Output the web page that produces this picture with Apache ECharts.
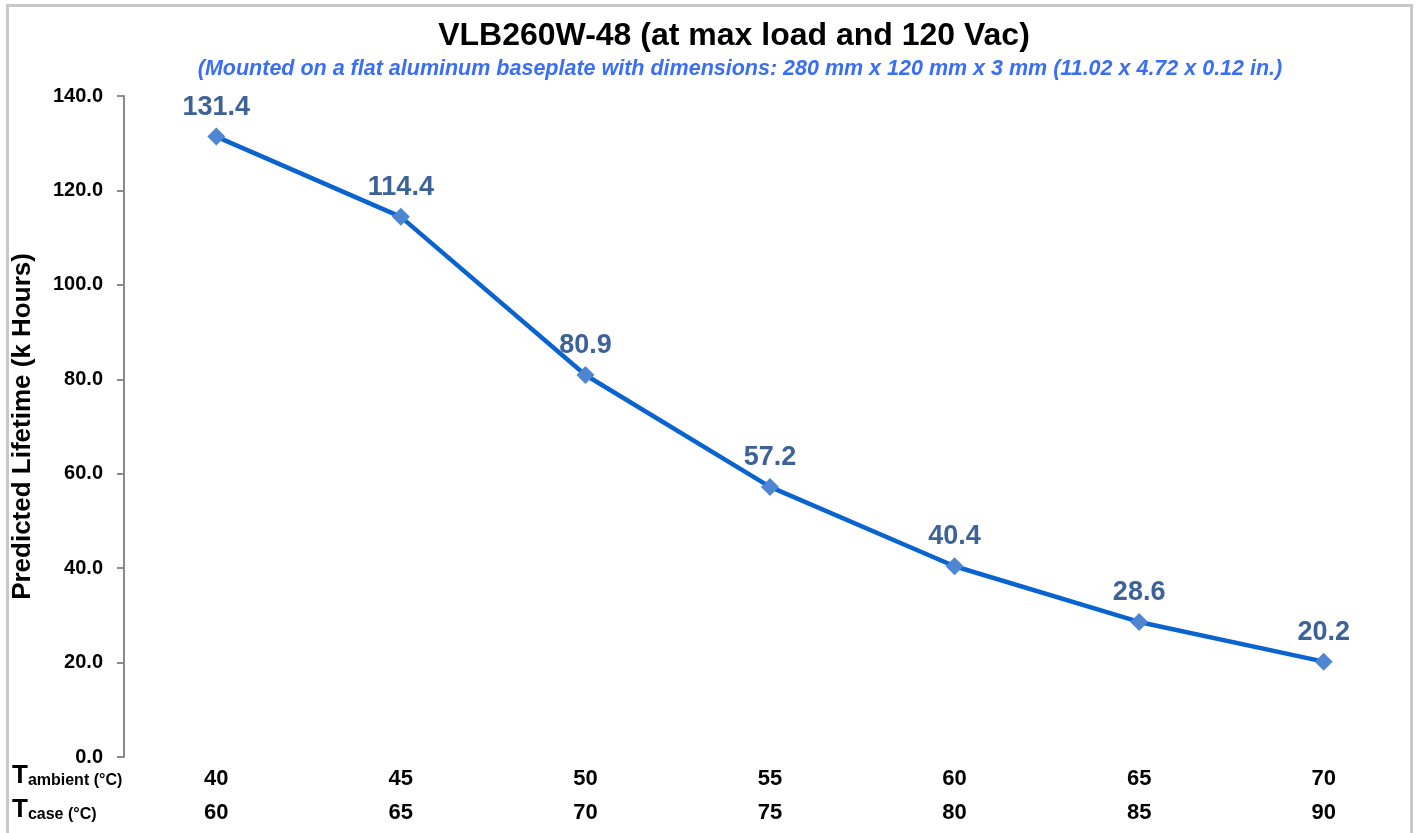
<!DOCTYPE html>
<html>
<head>
<meta charset="utf-8">
<script src="https://cdn.jsdelivr.net/npm/echarts@6/dist/echarts.min.js"></script>
<style>
html, body { margin: 0; padding: 0; background: #fff; }
#main { width: 1416px; height: 833px; }
.frame { position: absolute; left: 6px; top: 4px; width: 1407px; height: 840px; border: 3px solid #c8c8c8; box-sizing: border-box; pointer-events: none; }
</style>
</head>
<body>
<div id="main"></div>
<div class="frame"></div>
<script>
// 数据
var tAmbient = ['40', '45', '50', '55', '60', '65', '70'];
var tCase = ['60', '65', '70', '75', '80', '85', '90'];
var lifetime = [131.4, 114.4, 80.9, 57.2, 40.4, 28.6, 20.2];

var font = '"Liberation Sans", Arial, Helvetica, sans-serif';

var myChart = echarts.init(document.getElementById('main'));
var option = {
    backgroundColor: '#fff',
    textStyle: { fontFamily: font },
    title: [{
        text: 'VLB260W-48 (at max load and 120 Vac)',
        left: 729,
        textAlign: 'center',
        top: 15,
        textStyle: { fontFamily: font, fontSize: 32, fontWeight: 'bold', color: '#000' }
    }, {
        text: '(Mounted on a flat aluminum baseplate with dimensions: 280 mm x 120 mm x 3 mm (11.02 x 4.72 x 0.12 in.)',
        left: 735,
        textAlign: 'center',
        top: 53,
        textStyle: { fontFamily: font, fontSize: 21.5, fontWeight: 'bold', fontStyle: 'italic', color: '#3a6ef5' }
    }],
    grid: { left: 124, right: 0, top: 96, bottom: 76, outerBoundsMode: 'none' },
    xAxis: {
        type: 'category',
        data: tAmbient,
        boundaryGap: true,
        axisLine: { show: false },
        axisTick: { show: false },
        axisLabel: {
            margin: 5,
            formatter: function (v, i) {
                return '{a|' + v + '}\n{a|' + tCase[i] + '}';
            },
            rich: {
                a: { fontFamily: font, fontSize: 22, fontWeight: 'bold', color: '#000', lineHeight: 34 }
            }
        }
    },
    yAxis: {
        type: 'value',
        min: 0,
        max: 140,
        interval: 20,
        name: 'Predicted Lifetime (k Hours)',
        nameLocation: 'middle',
        nameGap: 88,
        nameTextStyle: { fontFamily: font, fontSize: 26, fontWeight: 'bold', color: '#000' },
        axisLine: { show: true, lineStyle: { color: '#8a8a8a', width: 2 } },
        axisTick: { show: true, inside: false, length: 7, lineStyle: { color: '#8a8a8a', width: 2 } },
        axisLabel: {
            margin: 21,
            fontFamily: font, fontSize: 20, fontWeight: 'bold', color: '#000',
            formatter: function (v) { return v.toFixed(1); }
        },
        splitLine: { show: false }
    },
    series: [{
        type: 'line',
        data: lifetime,
        symbol: 'diamond',
        symbolSize: 18,
        lineStyle: { color: '#0a64cf', width: 4.5 },
        itemStyle: { color: '#4f86d2' },
        label: {
            show: true,
            position: 'top',
            distance: 7,
            fontFamily: font, fontSize: 27, fontWeight: 'bold', color: '#3c6298',
            formatter: function (p) { return p.value.toFixed(1); }
        },
        animation: false
    }],
    graphic: [
        {
            type: 'text', left: 12, top: 763,
            style: {
                text: '{t|T}{s|ambient (°C)}',
                rich: {
                    t: { fontFamily: font, fontSize: 26, fontWeight: 'bold', fill: '#000' },
                    s: { fontFamily: font, fontSize: 16, fontWeight: 'bold', fill: '#000', padding: [10, 0, 0, 0] }
                }
            }
        },
        {
            type: 'text', left: 12, top: 797,
            style: {
                text: '{t|T}{s|case (°C)}',
                rich: {
                    t: { fontFamily: font, fontSize: 26, fontWeight: 'bold', fill: '#000' },
                    s: { fontFamily: font, fontSize: 16, fontWeight: 'bold', fill: '#000', padding: [10, 0, 0, 0] }
                }
            }
        }
    ],
    animation: false
};
myChart.setOption(option);
</script>
</body>
</html>
